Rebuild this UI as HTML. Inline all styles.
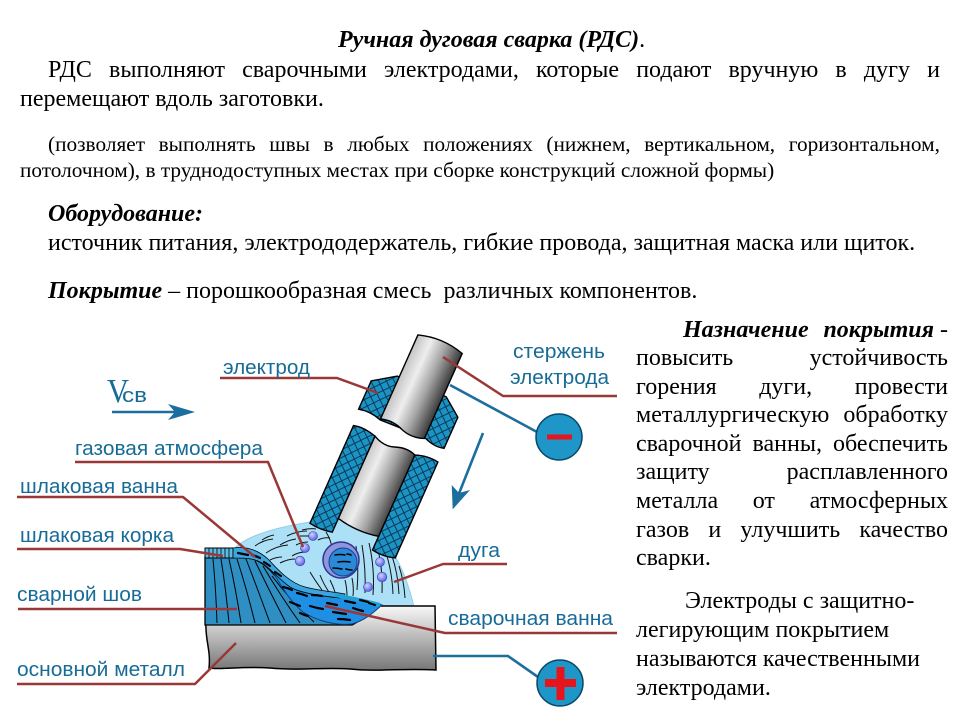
<!DOCTYPE html>
<html><head><meta charset="utf-8">
<style>
html,body{margin:0;padding:0;background:#fff;}
body{width:960px;height:720px;position:relative;overflow:hidden;}
.t{position:absolute;font-family:"Liberation Serif","Noto Serif CJK SC",serif;font-size:24px;line-height:29px;color:#000;white-space:nowrap;}
.s{font-size:21.3px;line-height:26px;}
.j{display:flex;justify-content:space-between;}
.bi{font-weight:bold;font-style:italic;}
svg{position:absolute;left:0;top:0;}
</style></head><body>

<div class="t" style="left:338px;top:25.7px;"><span class="bi">Ручная дуговая сварка (РДС)</span>.</div>
<div class="t j" style="left:48px;top:55.7px;width:892px;"><span>РДС</span><span>выполняют</span><span>сварочными</span><span>электродами,</span><span>которые</span><span>подают</span><span>вручную</span><span>в</span><span>дугу</span><span>и</span></div>
<div class="t" style="left:20px;top:85px;">перемещают вдоль заготовки.</div>

<div class="t s j" style="left:48px;top:130.5px;width:892px;"><span>(позволяет</span><span>выполнять</span><span>швы</span><span>в</span><span>любых</span><span>положениях</span><span>(нижнем,</span><span>вертикальном,</span><span>горизонтальном,</span></div>
<div class="t s" style="left:20px;top:156.5px;">потолочном), в труднодоступных местах при сборке конструкций сложной формы)</div>

<div class="t bi" style="left:48px;top:200.4px;">Оборудование:</div>
<div class="t" style="left:48px;top:229.1px;">источник питания, электрододержатель, гибкие провода, защитная маска или щиток.</div>
<div class="t" style="left:48px;top:277.4px;"><span class="bi">Покрытие</span> – порошкообразная смесь&nbsp; различных компонентов.</div>

<div class="t j" style="left:683px;top:315.7px;width:265px;"><span class="bi">Назначение</span><span><span class="bi">покрытия</span> -</span></div>
<div class="t j" style="left:636px;top:344.3px;width:312px;"><span>повысить</span><span>устойчивость</span></div>
<div class="t j" style="left:636px;top:372.8px;width:312px;"><span>горения</span><span>дуги,</span><span>провести</span></div>
<div class="t j" style="left:636px;top:401.4px;width:312px;"><span>металлургическую</span><span>обработку</span></div>
<div class="t j" style="left:636px;top:429.9px;width:312px;"><span>сварочной</span><span>ванны,</span><span>обеспечить</span></div>
<div class="t j" style="left:636px;top:458.4px;width:312px;"><span>защиту</span><span>расплавленного</span></div>
<div class="t j" style="left:636px;top:487px;width:312px;"><span>металла</span><span>от</span><span>атмосферных</span></div>
<div class="t j" style="left:636px;top:515.6px;width:312px;"><span>газов</span><span>и</span><span>улучшить</span><span>качество</span></div>
<div class="t" style="left:636px;top:544.1px;">сварки.</div>
<div class="t" style="left:685px;top:587.4px;">Электроды с защитно-</div>
<div class="t" style="left:636px;top:616.3px;">легирующим покрытием</div>
<div class="t" style="left:636px;top:645.2px;">называются качественными</div>
<div class="t" style="left:636px;top:674.1px;">электродами.</div>

<svg width="960" height="720" viewBox="0 0 960 720" xmlns="http://www.w3.org/2000/svg">
<defs>
<pattern id="hatch" patternUnits="userSpaceOnUse" width="7" height="7" patternTransform="rotate(40)">
<rect width="7" height="7" fill="#1c93c5"/>
<path d="M0,3.5H7M3.5,0V7" stroke="#0a3a55" stroke-width="1"/>
</pattern>
<linearGradient id="rod" gradientUnits="userSpaceOnUse" x1="-24" y1="0" x2="24" y2="0">
<stop offset="0" stop-color="#c4c4c4"/><stop offset="0.3" stop-color="#eeeeee"/><stop offset="0.62" stop-color="#a6a6a6"/><stop offset="1" stop-color="#3a3a3a"/>
</linearGradient>
<linearGradient id="plate" x1="0" y1="0" x2="0" y2="1">
<stop offset="0" stop-color="#f8f8f8"/><stop offset="1" stop-color="#777"/>
</linearGradient>
<radialGradient id="bub" cx="0.4" cy="0.35" r="0.65">
<stop offset="0" stop-color="#d0d4ff"/><stop offset="1" stop-color="#5a60e6"/>
</radialGradient>
</defs>

<!-- gas atmosphere -->
<path d="M234,549 C245,537 272,528 310,522 L330,500 L400,520 L396,558 C403,570 409,586 414,607 L377,607 L300,602 L250,572 Z" fill="#ace0f6" stroke="#8fcfe8" stroke-width="1"/>
<g fill="none" stroke="#111" stroke-width="1">
<path d="M255,546 q8,-6 18,-7"/><path d="M266,553 q10,-7 22,-8"/><path d="M280,545 q8,-5 16,-6"/>
<path d="M287,536 q10,-5 20,-5"/><path d="M292,556 q6,-4 14,-4"/><path d="M302,530 q8,-2 14,-1"/>
<path d="M280,563 q8,-4 15,-4"/><path d="M318,540 q6,-3 12,-2"/><path d="M310,572 q6,10 12,18"/>
<path d="M320,575 q4,10 9,17"/><path d="M356,546 q3,22 1,44"/><path d="M362,545 q4,24 3,48"/>
<path d="M369,543 q6,26 4,52"/><path d="M377,546 q6,22 5,47"/><path d="M385,550 q7,20 8,44"/>
<path d="M392,556 q6,18 7,38"/><path d="M399,566 q5,15 6,32"/><path d="M330,580 q3,6 5,12"/>
<path d="M345,580 q2,8 2,16"/><path d="M352,578 q2,10 1,18"/><path d="M326,532 q5,8 6,16"/>
<path d="M262,540 q6,-4 12,-5"/><path d="M296,545 q6,-3 12,-3"/><path d="M270,560 q6,-3 12,-3"/>
</g>

<!-- base metal -->
<path d="M206,623 L352,623 C362,620 370,612 378,606 L435,606 L436,670 C400,668 380,672 350,669 C320,667 300,671 270,668 C240,666 222,670 209,668 C211,650 205,640 206,623 Z" fill="url(#plate)" stroke="#000" stroke-width="1.5"/>

<!-- weld seam -->
<path d="M205,557 L240,557 C252,557 262,562 270,570 C280,582 292,592 310,597 C330,602 350,603 378,606 C370,613 362,620 352,625 L205,625 Z" fill="#2f8fc3" stroke="#000" stroke-width="1.3"/>
<g fill="none" stroke="#000" stroke-width="1">
<path d="M213,559 Q216,590 217,623"/><path d="M221,559 Q226,590 229,623"/><path d="M229,559 Q236,590 241,623"/>
<path d="M237,559 Q247,590 255,623"/><path d="M246,559 Q258,590 270,623"/><path d="M255,561 Q270,592 286,623"/>
<path d="M263,566 Q280,595 300,623"/><path d="M272,576 Q290,600 314,622"/>
</g>
<!-- slag crust -->
<path d="M205,548 L236,548 L236,558 L205,558 Z" fill="#5cbde6" stroke="#000" stroke-width="1"/>
<g stroke="#000" stroke-width="0.8">
<path d="M209,548V558M213,548V558M217,548V558M221,548V558M225,548V558M229,548V558M233,548V558"/>
</g>
<!-- pool -->
<path d="M272,570 C280,580 292,588 310,590 C330,592 350,597 382,605 C374,612 366,620 352,624 C335,626 315,620 303,612 C292,603 283,590 272,570 Z" fill="#1f8fe3" stroke="#0d3f7a" stroke-width="1"/>
<!-- slag bath band -->
<path d="M233,548 C246,546 258,550 268,559 C278,570 290,583 305,587 C320,591 335,592 345,594 L340,598 C320,596 300,593 290,587 C280,580 272,570 262,563 C254,558 244,558 233,558 Z" fill="#3aa5de" stroke="#000" stroke-width="0.8"/>
<path d="M335,595 C350,598 365,601 380,605" stroke="#22a0d6" stroke-width="4" fill="none"/>
<g fill="none" stroke="#000" stroke-width="2.2" stroke-linecap="round">
<path d="M238,553 q5,1 10,2"/><path d="M252,555 q4,1 8,3"/><path d="M264,562 q3,2 6,4"/><path d="M275,572 q3,2 6,4"/>
<path d="M283,587 q5,1 9,3"/><path d="M297,593 q5,1 10,3"/><path d="M312,595 q5,0 10,1"/><path d="M290,602 q5,2 10,4"/>
<path d="M310,606 q6,2 13,3"/><path d="M327,603 q5,1 10,2"/><path d="M333,612 q6,1 13,2"/><path d="M345,601 q5,1 10,2"/>
<path d="M353,608 q5,2 10,3"/><path d="M338,619 q6,0 12,1"/><path d="M360,600 q4,1 8,2"/><path d="M369,603 q3,1 6,2"/>
<path d="M300,613 q4,2 8,3"/>
</g>

<!-- droplet -->
<circle cx="341" cy="560" r="18" fill="#9095e0" stroke="#2c3590" stroke-width="1.5"/>
<circle cx="343" cy="562" r="14" fill="#2a8ad8" stroke="#1a3f8a" stroke-width="1"/>
<g fill="none" stroke="#000" stroke-width="1.6" stroke-linecap="round">
<path d="M335,555 q5,-1 10,0"/><path d="M338,562 q6,-1 12,0"/><path d="M333,568 q4,0 9,1"/><path d="M346,569 q3,1 6,1"/><path d="M347,554 q2,0 4,1"/>
</g>
<!-- bubbles -->
<g fill="url(#bub)" stroke="#3a3fb0" stroke-width="0.6">
<circle cx="313" cy="536" r="4.5"/><circle cx="305" cy="548" r="4.5"/><circle cx="300" cy="561" r="4.8"/>
<circle cx="380" cy="562" r="4.5"/><circle cx="382" cy="577" r="4.8"/><circle cx="368" cy="587" r="4.5"/>
</g>
<path d="M300,536 L309,536" stroke="#333" stroke-width="1.2"/>

<!-- electrode -->
<g transform="translate(352,542) rotate(24)" stroke="#000" stroke-width="1.4">
<path d="M-46,-107 Q-36,-110 -22,-106 L-22,-1 Q-34,2 -46,0 Z" fill="url(#hatch)"/>
<path d="M22,-105 Q34,-110 46,-108 L46,-3 Q34,1 22,-1 Z" fill="url(#hatch)"/>
<path d="M-22,-106 Q-10,-100 0,-104 Q12,-109 22,-105 L22,-16 Q0,-11 -22,-16 Z" fill="url(#rod)"/>
<path d="M-26,-170 L27,-171 L46,-157 L46,-123 Q36,-120 24,-125 L-24,-123 Q-36,-127 -48,-124 L-48,-155 Z" fill="url(#hatch)"/>
<path d="M-24,-124 L-24,-216 Q0,-224 24,-217 L24,-124 Q12,-119 0,-123 Q-12,-128 -24,-124 Z" fill="url(#rod)"/>
</g>

<!-- pointer lines -->
<g fill="none" stroke="#9a3838" stroke-width="2.5" stroke-linejoin="round">
<path d="M220,378 L337,378 L378,393"/>
<path d="M617,396 L503,396 L443,357"/>
<path d="M75,462 L268,462 L303,547"/>
<path d="M17,497 L183,497 L255,557"/>
<path d="M17,549 L180,549 L223,556"/>
<path d="M18,609 L237,609"/>
<path d="M17,684 L195,684 L236,643"/>
<path d="M507,564 L443,564 L394,582"/>
<path d="M617,633 L445,633 L325,606"/>
</g>

<!-- blue lines & arrows -->
<g fill="none" stroke="#1b6e9d" stroke-width="2.6">
<path d="M450,385 L537,432"/>
<path d="M433,656 L508,656 L538,677"/>
<path d="M112,412 L176,412"/>
<path d="M483,433 L458,496"/>
</g>
<path d="M195,412 L168,404 L175,412 L168,420 Z" fill="#1b6e9d"/>
<path d="M452.7,509.3 L451.7,485 L459,493 L470,490 Z" fill="#1b6e9d"/>

<!-- circles -->
<circle cx="559" cy="437" r="23" fill="#1e96c8" stroke="#0b4a6a" stroke-width="1.5"/>
<rect x="547" y="434.5" width="25" height="5" fill="#e8141c"/>
<circle cx="560" cy="683" r="23" fill="#1e96c8" stroke="#0b4a6a" stroke-width="1.5"/>
<rect x="545" y="679" width="31" height="8" fill="#e8141c"/>
<rect x="556.5" y="667" width="8" height="33" fill="#e8141c"/>

<!-- labels -->
<g font-family="'Liberation Sans', sans-serif" font-size="20" fill="#176b97">
<text x="223" y="374" textLength="87" lengthAdjust="spacingAndGlyphs">электрод</text>
<text x="513" y="358" textLength="92" lengthAdjust="spacingAndGlyphs">стержень</text>
<text x="510" y="384" textLength="99" lengthAdjust="spacingAndGlyphs">электрода</text>
<text x="75" y="455" textLength="188" lengthAdjust="spacingAndGlyphs">газовая атмосфера</text>
<text x="20" y="493" textLength="158" lengthAdjust="spacingAndGlyphs">шлаковая ванна</text>
<text x="20" y="542" textLength="154" lengthAdjust="spacingAndGlyphs">шлаковая корка</text>
<text x="17" y="601" textLength="125" lengthAdjust="spacingAndGlyphs">сварной шов</text>
<text x="17" y="676" textLength="168" lengthAdjust="spacingAndGlyphs">основной металл</text>
<text x="458" y="557" textLength="42" lengthAdjust="spacingAndGlyphs">дуга</text>
<text x="448" y="625" textLength="165" lengthAdjust="spacingAndGlyphs">сварочная ванна</text>
<text x="107" y="402" font-family="'Liberation Serif', serif" font-size="34" textLength="22" lengthAdjust="spacingAndGlyphs">V</text>
<text x="122" y="402" textLength="25" lengthAdjust="spacingAndGlyphs">св</text>
</g>
</svg>
</body></html>
